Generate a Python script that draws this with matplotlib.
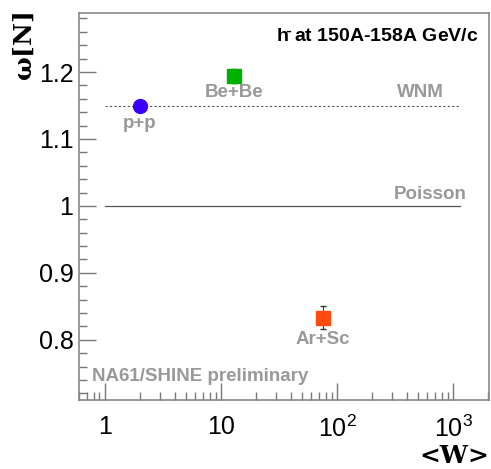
import matplotlib
matplotlib.use("Agg")
import matplotlib.pyplot as plt
from matplotlib.ticker import LogLocator, MultipleLocator, NullFormatter

systems = ["p+p", "Be+Be", "Ar+Sc"]
W = [2.0, 12.9, 76.0]
omega = [1.149, 1.194, 0.833]
omega_err = [0.004, 0.010, 0.017]
markers = ["o", "s", "s"]
colors = ["#3a00ff", "#00b000", "#ff4a10"]
wnm_value = 1.149
poisson_value = 1.0
ref_x = [1.0, 1150.0]

plt.rcParams['font.family'] = ['Liberation Sans', 'DejaVu Sans']
plt.rcParams['mathtext.default'] = 'regular'
fig = plt.figure(figsize=(4.91, 4.69), dpi=100)
ax = fig.add_axes([0.161, 0.147, 0.835, 0.825])
ax.set_xscale("log")
ax.set_xlim(0.6, 2040)
ax.set_ylim(0.71, 1.288)

grey = "#999999"
ax.plot(ref_x, [wnm_value]*2, ls=(0, (2, 2)), color="#555555", lw=0.8)
ax.plot(ref_x, [poisson_value]*2, ls="-", color="#555555", lw=0.9)

for x, y, e, m, c in zip(W, omega, omega_err, markers, colors):
    ax.errorbar(x, y, yerr=e, fmt=m, color=c, ms=10 if m == "o" else 9.5,
                ecolor="#333333", elinewidth=0.8, capsize=2, zorder=3)

label_off = [-0.026, -0.025, -0.033]
for x, y, s, o in zip(W, omega, systems, label_off):
    ax.text(x, y + o, s, color=grey, fontsize=13.5, fontweight="bold",
            ha="center", va="center")

ax.text(520, wnm_value + 0.007, "WNM", color=grey, fontsize=13.5, fontweight="bold",
        ha="center", va="bottom")
ax.text(640, poisson_value + 0.004, "Poisson", color=grey, fontsize=13.5, fontweight="bold",
        ha="center", va="bottom")
ax.text(0.032, 0.04, "NA61/SHINE preliminary", transform=ax.transAxes, color=grey,
        fontsize=13.5, fontweight="bold", ha="left", va="bottom")
ax.text(0.975, 0.962, r"h$^{\bar{}}$ at 150A-158A GeV/c", transform=ax.transAxes,
        color="black", fontsize=14, fontweight="bold", ha="right", va="top")

ax.set_yticks([0.8, 0.9, 1.0, 1.1, 1.2])
ax.set_yticklabels(["0.8", "0.9", "1", "1.1", "1.2"])
ax.yaxis.set_minor_locator(MultipleLocator(0.02))
ax.set_xticks([1, 10, 100, 1000])
ax.set_xticklabels(["1", "10", r"$10^2$", r"$10^3$"])
ax.xaxis.set_minor_locator(LogLocator(base=10, subs=range(2, 10)))
ax.xaxis.set_minor_formatter(NullFormatter())

ax.tick_params(which="both", direction="in", color="#777777", top=False, right=False)
ax.tick_params(which="major", length=12, width=1, labelsize=18, pad=4)
ax.tick_params(which="minor", length=6, width=1)
ax.tick_params(axis="x", which="major", pad=11)
for s in ax.spines.values():
    s.set_color("#888888")
    s.set_linewidth(1.2)

fig.text(0.025, 0.975, r"$\omega$[N]", rotation=90, fontsize=18, ha="left", va="top",
         family="DejaVu Serif", fontweight="bold")
fig.text(0.996, 0.002, "<W>", fontsize=18, ha="right", va="bottom",
         family="DejaVu Serif", fontweight="bold")

fig.savefig("out.png", dpi=100)
